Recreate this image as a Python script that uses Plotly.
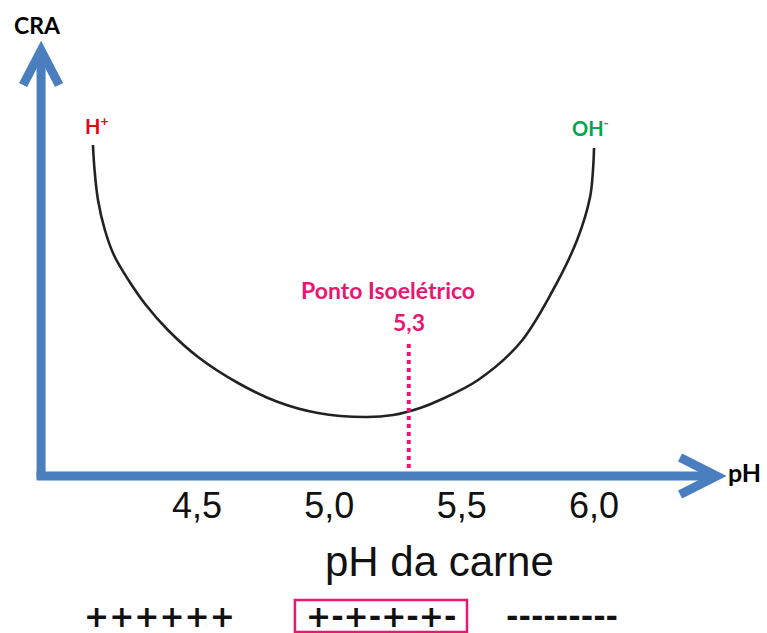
import plotly.graph_objects as go

# Water-holding capacity (CRA) versus meat pH, arbitrary units
ph_curve = [4.107, 4.113, 4.126, 4.152, 4.186, 4.241, 4.307, 4.390, 4.504, 4.655,
            4.806, 4.957, 5.135, 5.241, 5.343, 5.418, 5.562, 5.720, 5.845, 5.936,
            5.985, 5.996, 6.000]
cra_curve = [82.75, 76.5, 69.0, 61.5, 55.25, 49.0, 42.75, 36.5, 29.75, 23.25,
             18.5, 15.75, 14.75, 15.25, 17.0, 19.0, 24.0, 33.25, 46.5, 59.0,
             69.75, 76.5, 82.0]

isoelectric_ph = 5.3
isoelectric_label = "5,3"
isoelectric_cra = 33.5

tick_values = [4.5, 5.0, 5.5, 6.0]
tick_labels = ["4,5", "5,0", "5,5", "6,0"]

charge_labels = ["++++++", "+-+-+-+-", "---------"]
charge_ph = [4.36, 5.195, 5.879]

X_RANGE = [3.7558, 6.6534]
Y_RANGE = [-39.25, 119.0]

AXIS_BLUE = "#4A7EBF"
PINK = "#E8176F"

fig = go.Figure()

# U-shaped CRA curve
fig.add_trace(go.Scatter(
    x=ph_curve, y=cra_curve, mode="lines",
    line=dict(color="#222222", width=2.6, shape="spline", smoothing=1.0),
    hoverinfo="skip", showlegend=False,
))

# Isoelectric point marker line
fig.add_trace(go.Scatter(
    x=[isoelectric_ph, isoelectric_ph], y=[0, isoelectric_cra], mode="lines",
    line=dict(color=PINK, width=4, dash="4px,4px"),
    hoverinfo="skip", showlegend=False,
))

# Thick blue axis arrows
x0, y0 = 3.911, 0.0
x_end, y_end = 6.457, 106.0
shapes = [
    dict(type="line", x0=x0, y0=-0.5, x1=x0, y1=y_end,
         line=dict(color=AXIS_BLUE, width=9)),
    dict(type="line", x0=x0 - 0.017, y0=y0, x1=x_end, y1=y0,
         line=dict(color=AXIS_BLUE, width=9)),
    dict(type="path", path=f"M 3.843 97.75 L {x0} {y_end + 0.4} L 3.979 97.75",
         line=dict(color=AXIS_BLUE, width=9)),
    dict(type="path", path=f"M 6.325 4.6 L {x_end + 0.006} 0 L 6.325 -4.6",
         line=dict(color=AXIS_BLUE, width=9)),
    # frame around the isoelectric charge state
    dict(type="rect", x0=4.870, x1=5.520, y0=-39.0, y1=-31.0,
         line=dict(color=PINK, width=2.5)),
]

calibri_like = "Lato, 'Open Sans', sans-serif"
arial_like = "'Liberation Sans', Arial, sans-serif"
wide_bold = "'DejaVu Sans', sans-serif"

annotations = [
    dict(x=3.896, y=112.75, text="<b>CRA</b>", showarrow=False,
         font=dict(family=calibri_like, size=23, color="black")),
    dict(x=6.570, y=1.0, text="<b>pH</b>", showarrow=False,
         font=dict(family=calibri_like, size=25, color="black")),
    dict(x=4.122, y=87.75, text="<b>H<sup>+</sup></b>", showarrow=False,
         font=dict(family=calibri_like, size=20, color="#E30613")),
    dict(x=5.985, y=87.25, text="<b>OH<sup>-</sup></b>", showarrow=False,
         font=dict(family=calibri_like, size=20, color="#00A54F")),
    dict(x=isoelectric_ph - 0.08, y=46.5, text="<b>Ponto Isoelétrico</b>", showarrow=False,
         font=dict(family=calibri_like, size=23, color=PINK)),
    dict(x=isoelectric_ph, y=38.5, text=f"<b>{isoelectric_label}</b>", showarrow=False,
         font=dict(family=calibri_like, size=23, color=PINK)),
    # x-axis title
    dict(x=5.418, y=-21.25, text="pH da carne", showarrow=False,
         font=dict(family=arial_like, size=42, color="#111111")),
]
for lab, px in zip(charge_labels, charge_ph):
    annotations.append(dict(x=px, y=-35.0, text=f"<b>{lab}</b>", showarrow=False,
                            font=dict(family=wide_bold, size=30, color="#111111")))

fig.update_layout(
    width=767, height=633,
    margin=dict(l=0, r=0, t=0, b=0),
    paper_bgcolor="white", plot_bgcolor="white",
    shapes=shapes, annotations=annotations,
    xaxis=dict(
        range=X_RANGE, anchor="free",
        position=(0 - Y_RANGE[0]) / (Y_RANGE[1] - Y_RANGE[0]),
        tickvals=tick_values, ticktext=tick_labels,
        tickfont=dict(family=arial_like, size=36, color="#111111"),
        ticks="", ticklabelstandoff=5,
        showgrid=False, zeroline=False, showline=False,
    ),
    yaxis=dict(range=Y_RANGE, visible=False, showgrid=False, zeroline=False),
)

fig.write_html("out.html")
